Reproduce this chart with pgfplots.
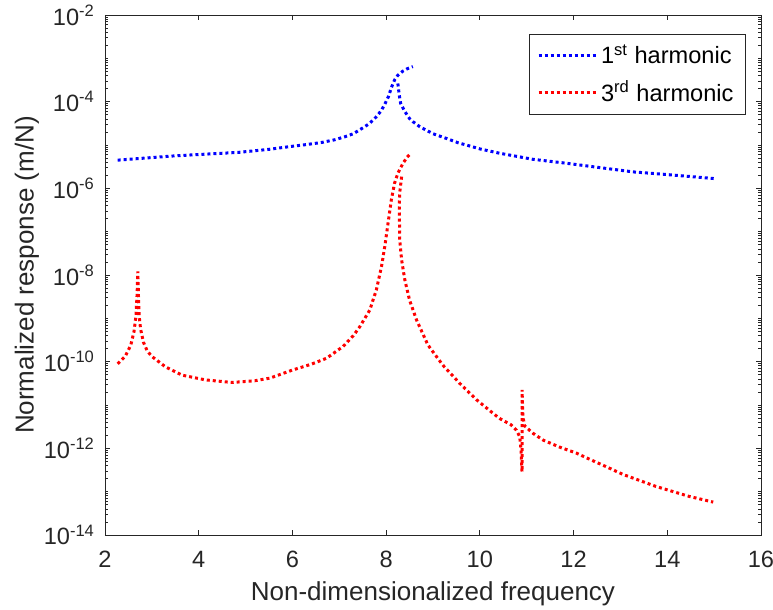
\documentclass[border=0pt]{standalone}
\usepackage{fontspec}
\setmainfont{Liberation Sans}
\usepackage{pgfplots}
\pgfplotsset{compat=1.18}
\definecolor{axgray}{rgb}{0.15,0.15,0.15}
\def\myminor{}
\foreach \d in {-14,...,-3}{\foreach \m in {2,...,9}{\xdef\myminor{\myminor\m e\d,}}}
\xdef\myminor{\myminor 1e-13,1e-11,1e-9,1e-7,1e-5,1e-3}
\begin{document}
\begin{tikzpicture}
\useasboundingbox (-52.5pt,-37.5pt) rectangle (334pt,267.5pt);
\begin{axis}[
  at={(0,0)}, anchor=south west,
  scale only axis, width=328pt, height=260pt,
  xmin=2, xmax=16, ymin=1e-14, ymax=1e-2, ymode=log,
  xtick={2,4,6,8,10,12,14,16}, xticklabels={2,4,6,8,10,12,14,16},
  ytick={1e-14,1e-12,1e-10,1e-8,1e-6,1e-4,1e-2},
  yticklabels={10\textsuperscript{-14},10\textsuperscript{-12},10\textsuperscript{-10},10\textsuperscript{-8},10\textsuperscript{-6},10\textsuperscript{-4},10\textsuperscript{-2}},
  minor ytick/.expanded={\myminor},
  tick align=inside, tick pos=both,
  major tick length=2.5pt, minor tick length=1.4pt,
  axis line style={axgray, line width=0.4pt},
  every tick/.style={axgray, line width=0.4pt},
  tick label style={font=\fontsize{11.8}{14}\selectfont, text=axgray},
  yticklabel style={xshift=-1.5pt},
  xticklabel style={yshift=-4.5pt},
  xlabel={Non-dimensionalized frequency},
  ylabel={Normalized response (m/N)},
  every axis x label/.style={at={(axis description cs:0.5,-0.1125)}, anchor=center, font=\fontsize{13}{15}\selectfont, text=axgray},
  every axis y label/.style={at={(axis description cs:-0.119,0.5)}, anchor=center, rotate=90, font=\fontsize{13}{15}\selectfont, text=axgray},
  legend style={at={(0.977,0.9635)}, anchor=north east, draw=axgray, line width=0.4pt,
    font=\fontsize{11.8}{14}\selectfont, text=black, inner xsep=4pt, inner ysep=3pt, row sep=3pt},
  legend cell align=left,
  legend image code/.code={\draw[#1] (0pt,0pt) -- (28.5pt,0pt);},
  clip=false
]
\addplot[blue, line width=1.5pt, dash pattern=on 1.5pt off 1.5pt] coordinates {
(2.27,4.47e-6)(3.0,5.13e-6)(3.43,5.56e-6)(4.0,6.03e-6)(4.85,6.76e-6)(5.5,7.94e-6)(5.92,9.12e-6)(6.3,1.023e-5)(6.63,1.148e-5)(6.9,1.318e-5)(7.12,1.549e-5)(7.3,1.82e-5)(7.51,2.512e-5)(7.65,3.162e-5)(7.79,4.467e-5)(7.9,6.31e-5)(7.97,8.71e-5)(8.05,1.318e-4)(8.11,2.089e-4)(8.18,3.162e-4)(8.25,4.07e-4)(8.35,5.01e-4)(8.45,5.75e-4)(8.57,6.46e-4)
};
\addlegendentry{1\textsuperscript{st} harmonic}
\addplot[red, line width=1.5pt, dash pattern=on 1.5pt off 1.5pt] coordinates {
(2.27,8.91e-11)(2.43,1.318e-10)(2.55,2.40e-10)(2.62,5.01e-10)(2.66,1.122e-9)(2.685,3.55e-9)(2.70,1.202e-8)(2.715,3.16e-9)(2.73,1.122e-9)(2.76,5.62e-10)(2.82,2.82e-10)(2.9,1.778e-10)(3.0,1.318e-10)(3.29,7.59e-11)(3.64,4.90e-11)(4.14,3.80e-11)(4.71,3.31e-11)(5.2,3.63e-11)(5.52,4.17e-11)(6.01,6.46e-11)(6.4,8.71e-11)(6.73,1.202e-10)(7.08,2.24e-10)(7.3,3.98e-10)(7.44,6.46e-10)(7.65,1.549e-9)(7.79,4.47e-9)(7.90,1.549e-8)(7.97,4.47e-8)(8.04,1.549e-7)(8.11,5.37e-7)(8.18,1.318e-6)(8.25,2.24e-6)(8.36,3.80e-6)(8.45,5.25e-6)(8.54,6.61e-6)
};
\addlegendentry{3\textsuperscript{rd} harmonic}
\addplot[blue, line width=1.5pt, dash pattern=on 1.5pt off 1.5pt, forget plot] coordinates {
(8.25,2.63e-4)(8.28,1.413e-4)(8.31,9.12e-5)(8.40,5.89e-5)(8.50,4.07e-5)(8.57,3.47e-5)(8.72,2.63e-5)(9.0,1.82e-5)(9.29,1.413e-5)(9.54,1.122e-5)(9.71,1.0e-5)(10.0,8.13e-6)(10.42,6.46e-6)(11.13,4.68e-6)(11.84,3.80e-6)(12.55,3.02e-6)(13.26,2.40e-6)(13.97,2.09e-6)(15.0,1.68e-6)
};
\addplot[red, line width=1.5pt, dash pattern=on 1.5pt off 1.5pt, forget plot] coordinates {
(8.33,1.862e-6)(8.29,7.94e-7)(8.28,3.80e-7)(8.29,6.46e-8)(8.33,2.24e-8)(8.40,7.59e-9)(8.50,2.63e-9)(8.65,9.12e-10)(8.89,2.45e-10)(8.97,1.862e-10)(9.21,8.32e-11)(9.57,3.16e-11)(9.93,1.318e-11)(10.28,6.46e-12)(10.42,4.90e-12)(10.67,3.47e-12)(10.78,2.63e-12)(10.85,1.862e-12)(10.88,9.12e-13)(10.90,2.88e-13)(10.90,2.24e-11)(10.92,5.37e-12)(10.955,3.31e-12)(11.13,2.24e-12)(11.35,1.549e-12)(11.7,1.07e-12)(12.06,7.76e-13)(12.4,5.25e-13)(12.73,3.63e-13)(13.05,2.51e-13)(13.76,1.318e-13)(14.47,7.76e-14)(14.98,5.75e-14)
};
\end{axis}
\end{tikzpicture}
\end{document}
